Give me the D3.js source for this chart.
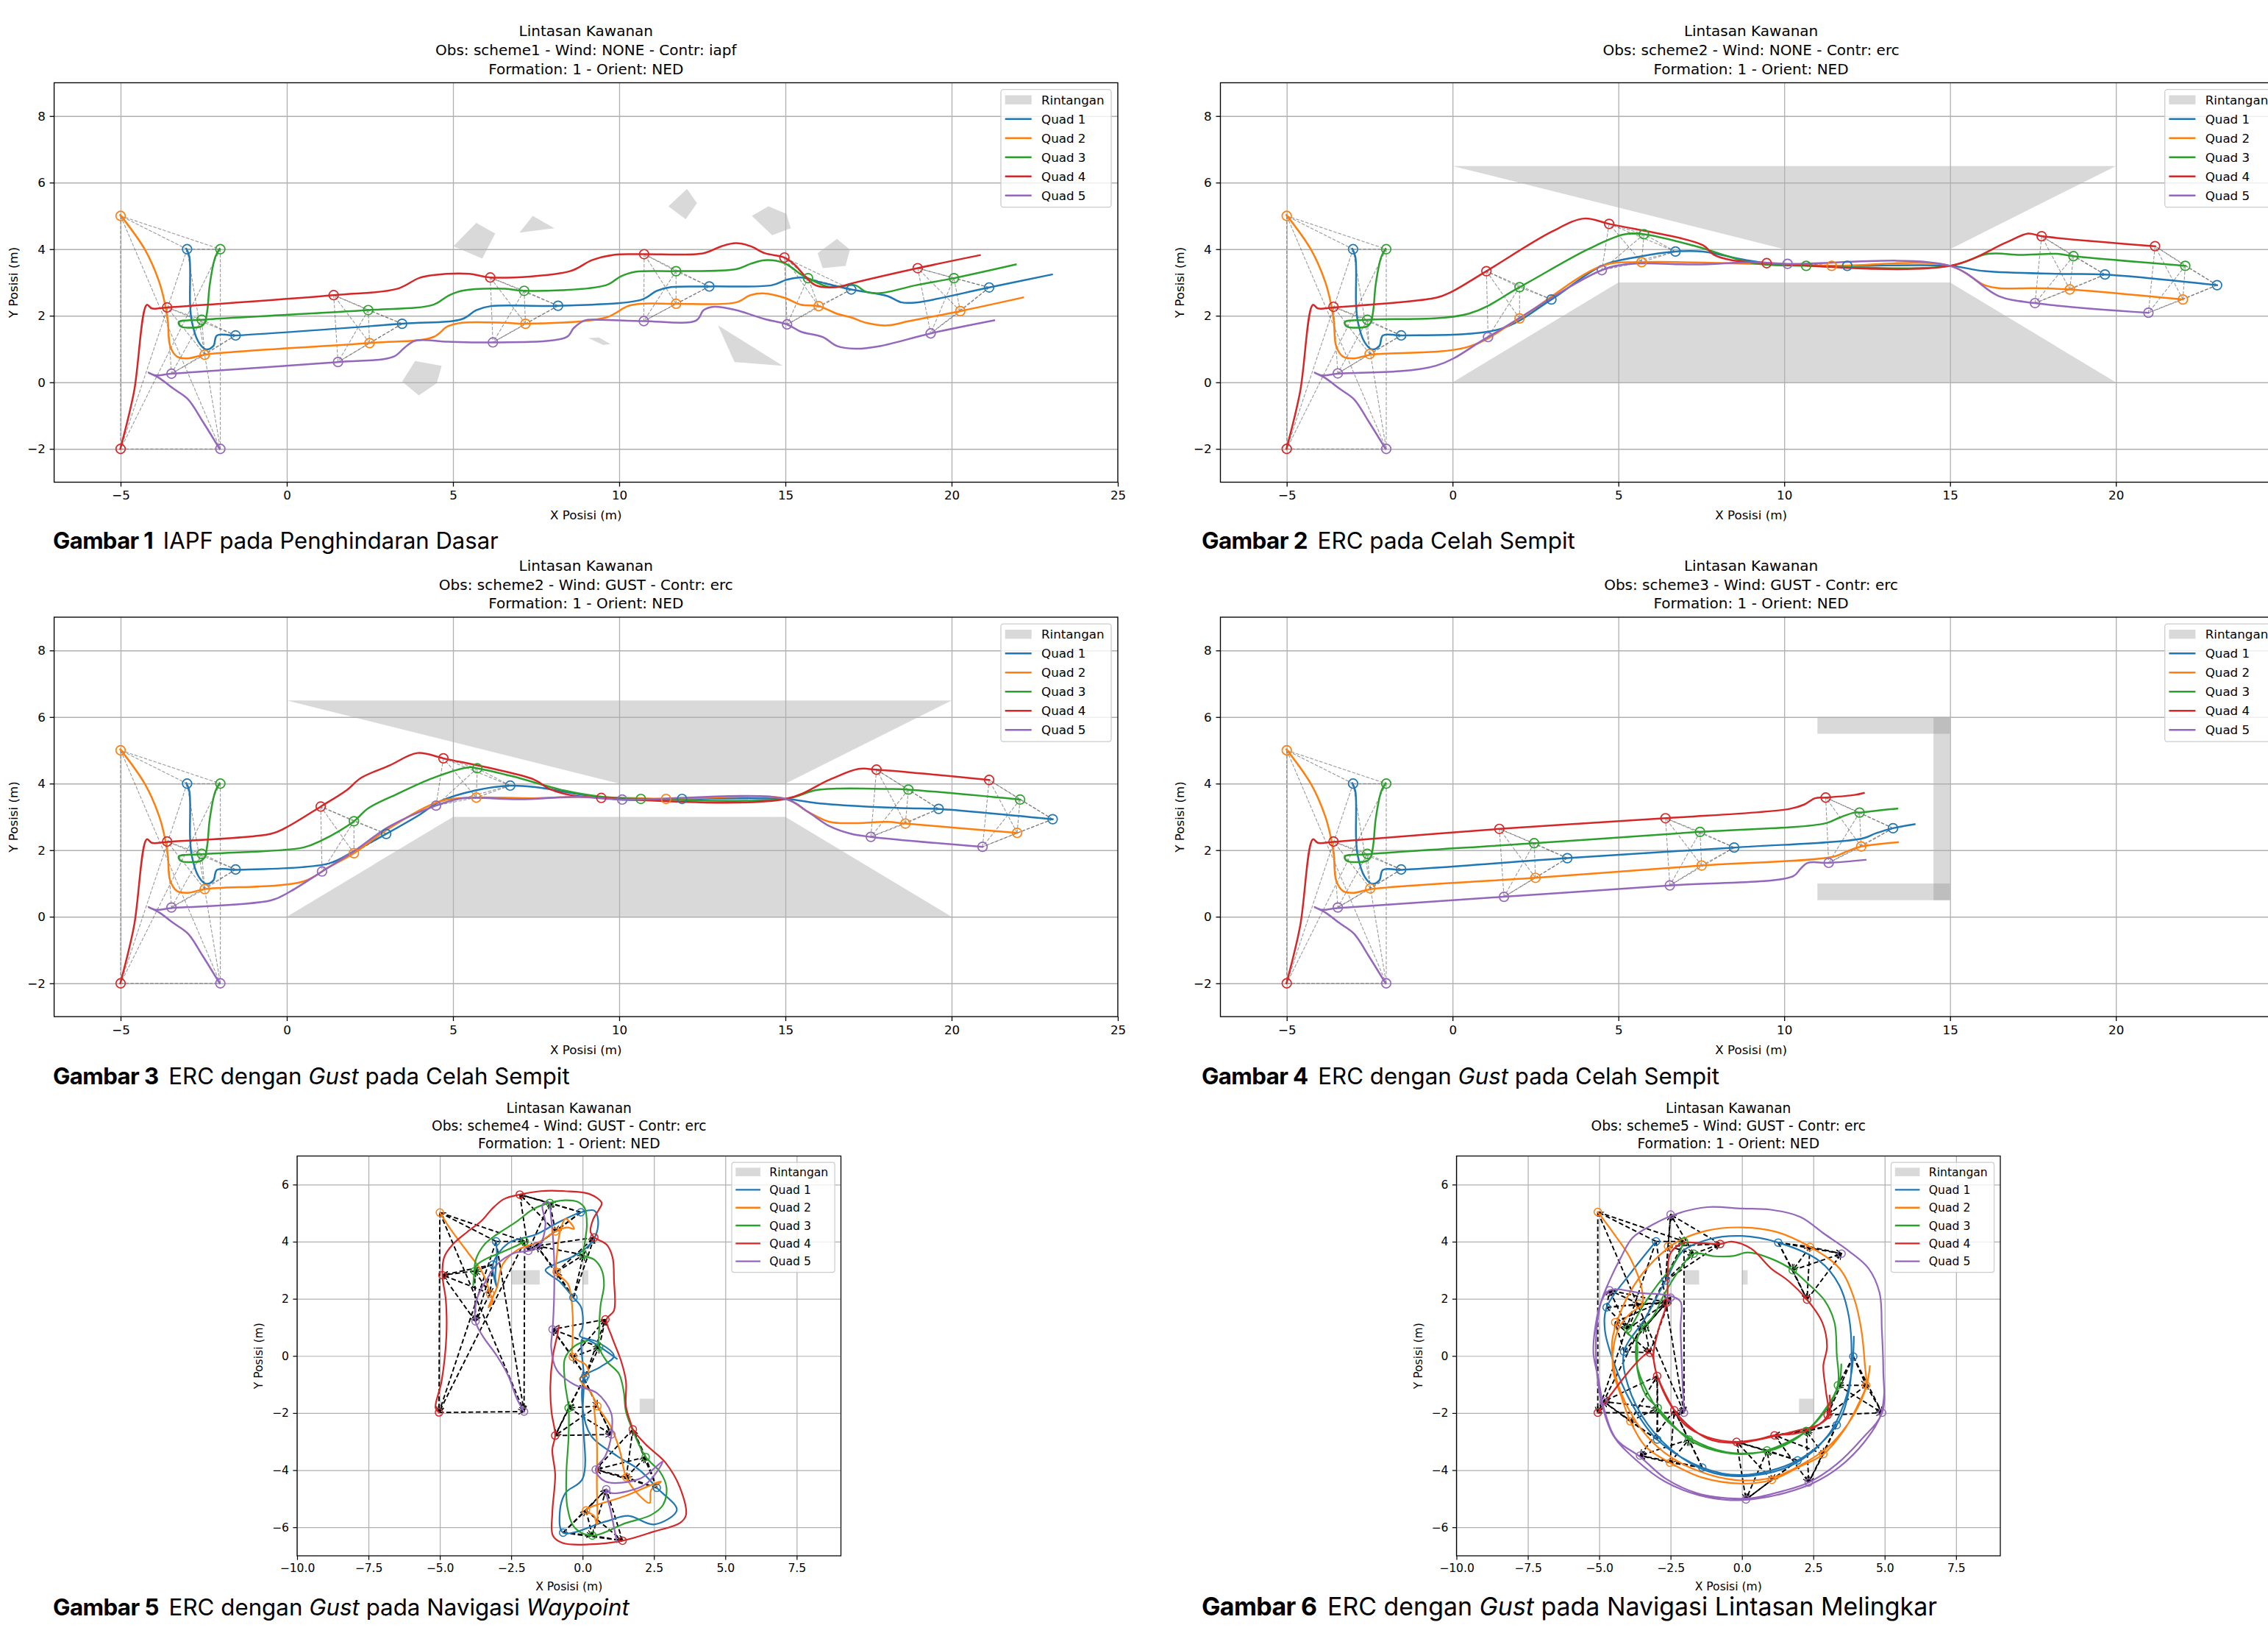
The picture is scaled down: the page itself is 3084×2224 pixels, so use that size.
<!DOCTYPE html>
<html><head><meta charset="utf-8">
<script src="https://cdn.jsdelivr.net/npm/d3@7"></script>
<style>body{margin:0;background:#fff}svg{display:block}</style>
</head><body>
<svg id="fig" width="3084" height="2224"></svg>
<script>
// ---------------- DATA ----------------
const quadNames = ["Quad 1","Quad 2","Quad 3","Quad 4","Quad 5"];
const quadColors = ["#1f77b4","#ff7f0e","#2ca02c","#d62728","#9467bd"];
const obstacleLabel = "Rintangan";

const xTicksWide = [-5,0,5,10,15,20,25];
const yTicksWide = [-2,0,2,4,6,8];
const xTicksSq = [-10,-7.5,-5,-2.5,0,2.5,5,7.5];
const yTicksSq = [-6,-4,-2,0,2,4,6];

const titles = [
 ["Lintasan Kawanan","Obs: scheme1 - Wind: NONE - Contr: iapf","Formation: 1 - Orient: NED"],
 ["Lintasan Kawanan","Obs: scheme2 - Wind: NONE - Contr: erc","Formation: 1 - Orient: NED"],
 ["Lintasan Kawanan","Obs: scheme2 - Wind: GUST - Contr: erc","Formation: 1 - Orient: NED"],
 ["Lintasan Kawanan","Obs: scheme3 - Wind: GUST - Contr: erc","Formation: 1 - Orient: NED"],
 ["Lintasan Kawanan","Obs: scheme4 - Wind: GUST - Contr: erc","Formation: 1 - Orient: NED"],
 ["Lintasan Kawanan","Obs: scheme5 - Wind: GUST - Contr: erc","Formation: 1 - Orient: NED"]
];
const captions = [
 [["Gambar 1","b"],[" IAPF pada Penghindaran Dasar",""]],
 [["Gambar 2","b"],[" ERC pada Celah Sempit",""]],
 [["Gambar 3","b"],[" ERC dengan ",""],["Gust","i"],[" pada Celah Sempit",""]],
 [["Gambar 4","b"],[" ERC dengan ",""],["Gust","i"],[" pada Celah Sempit",""]],
 [["Gambar 5","b"],[" ERC dengan ",""],["Gust","i"],[" pada Navigasi ",""],["Waypoint","i"]],
 [["Gambar 6","b"],[" ERC dengan ",""],["Gust","i"],[" pada Navigasi Lintasan Melingkar",""]]
];

// obstacles
const obs_p1 = [
 [[5.01,4.09],[5.7,4.79],[6.27,4.47],[5.88,3.72]],
 [[7.0,4.5],[7.4,5.0],[8.05,4.63]],
 [[11.48,5.29],[12.04,5.81],[12.34,5.38],[12.0,4.9]],
 [[13.99,5.0],[14.49,5.29],[15.03,5.06],[15.16,4.63],[14.6,4.42]],
 [[15.97,3.88],[16.55,4.31],[16.94,3.99],[16.81,3.5],[16.12,3.43]],
 [[9.07,1.33],[9.39,1.35],[9.74,1.15],[9.52,1.12]],
 [[12.97,1.71],[13.47,0.61],[14.92,0.5]],
 [[3.86,0.64],[4.66,0.5],[4.51,-0.03],[3.97,-0.39],[3.47,0.02]]
];
const obs_gap = [
 [[0,6.5],[20,6.5],[15,4],[10,4]],
 [[0,0],[5,3],[15,3],[20,0]]
];
const obs_p4 = [
 [[11,5.5],[15,5.5],[15,6],[11,6]],
 [[11,0.5],[15,0.5],[15,1],[11,1]],
 [[14.5,0.5],[15,0.5],[15,6],[14.5,6]]
];
const obs_p5 = [
 [[-2.5,2.5],[-1.5,2.5],[-1.5,3],[-2.5,3]],
 [[0,2.5],[0.2,2.5],[0.2,3],[0,3]],
 [[2,-2],[2.5,-2],[2.5,-1.5],[2,-1.5]]
];
const obs_p6 = [
 [[-2,2.5],[-1.5,2.5],[-1.5,3],[-2,3]],
 [[0,2.5],[0.2,2.5],[0.2,3],[0,3]],
 [[2,-2],[2.5,-2],[2.5,-1.5],[2,-1.5]]
];

// common take-off segments (panels 1-4)
const start_q1 = [[-3.02,4.01],[-2.93,3.77],[-2.91,2.38],[-2.86,1.84],[-2.65,1.2],[-2.43,0.99],[-2.21,1.09],[-2.1,1.41],[-1.54,1.41]];
const start_q2 = [[-5.01,5.03],[-4.27,3.99],[-3.84,3.02],[-3.67,2.38],[-3.58,1.84],[-3.51,1.09],[-3.3,0.77],[-2.97,0.72],[-2.47,0.83]];
const start_q3 = [[-2.02,4.01],[-2.15,3.77],[-2.32,2.92],[-2.39,2.17],[-2.47,1.79],[-2.58,1.68],[-3.19,1.68],[-3.25,1.81],[-2.56,1.88]];
const start_q4 = [[-5.01,-2.0],[-4.6,-0.3],[-4.21,2.33],[-4.06,2.22],[-3.6,2.25]];
const start_q5 = [[-2.02,-2.0],[-2.54,-1.16],[-2.97,-0.51],[-3.41,-0.19],[-3.84,0.13],[-4.16,0.29],[-3.95,0.21],[-3.47,0.26]];

// panel 1
const p1_q1 = start_q1.concat([[3.47,1.76],[5.27,1.9],[5.7,2.17],[6.14,2.29],[8.16,2.3],[10.69,2.49],[11.13,2.75],[11.56,2.86],[12.71,2.88],[14.6,2.92],[15.03,3.08],[15.47,3.15],[16.0,3.02],[16.98,2.79],[18.07,2.59],[18.5,2.4],[18.94,2.4],[21.13,2.85],[23.02,3.24]]);
const p1_q2 = start_q2.concat([[2.49,1.18],[4.4,1.36],[4.84,1.68],[5.27,1.79],[6.57,1.79],[7.18,1.76],[9.61,1.95],[10.26,2.29],[10.69,2.36],[11.71,2.36],[13.51,2.4],[13.95,2.62],[14.38,2.67],[14.97,2.54],[15.47,2.33],[16.0,2.29],[16.55,2.06],[16.98,1.95],[17.42,1.79],[18.07,1.71],[18.72,1.84],[20.26,2.14],[22.15,2.55]]);
const p1_q3 = start_q3.concat([[2.45,2.17],[4.4,2.33],[4.84,2.59],[5.27,2.75],[6.57,2.81],[7.14,2.75],[9.61,2.92],[10.04,3.18],[10.48,3.32],[11.71,3.34],[13.51,3.4],[13.95,3.56],[14.38,3.67],[14.97,3.58],[15.47,3.24],[15.68,3.13],[16.33,2.86],[17.09,2.92],[17.42,2.72],[17.85,2.68],[18.94,2.92],[20.07,3.13],[21.93,3.54]]);
const p1_q4 = start_q4.concat([[1.41,2.62],[3.32,2.81],[3.97,3.13],[4.4,3.22],[5.49,3.26],[6.12,3.15],[8.52,3.34],[9.18,3.67],[9.83,3.83],[10.69,3.85],[12.54,3.88],[13.08,4.09],[13.51,4.18],[13.95,4.09],[14.38,3.88],[14.97,3.75],[15.25,3.56],[15.9,2.92],[16.55,2.86],[16.98,2.97],[18.98,3.43],[20.85,3.82]]);
const p1_q5 = start_q5.concat([[1.54,0.61],[3.21,0.77],[3.54,1.04],[3.86,1.25],[4.84,1.22],[6.2,1.2],[8.42,1.36],[8.63,1.63],[8.96,1.86],[9.39,1.88],[10.74,1.84],[12.32,1.86],[12.54,2.17],[12.86,2.27],[13.51,2.17],[14.38,1.9],[15.05,1.74],[15.47,1.52],[16.12,1.36],[16.55,1.09],[17.09,1.01],[17.85,1.09],[19.37,1.47],[21.28,1.86]]);
const p1_snaps = [
 [[-3,4],[-5,5],[-2,4],[-5,-2],[-2,-2]],
 [[-1.54,1.41],[-2.47,0.83],[-2.56,1.88],[-3.6,2.25],[-3.47,0.26]],
 [[3.47,1.76],[2.49,1.18],[2.45,2.17],[1.41,2.62],[1.54,0.61]],
 [[8.16,2.3],[7.18,1.76],[7.14,2.75],[6.12,3.15],[6.2,1.2]],
 [[12.71,2.88],[11.71,2.36],[11.71,3.34],[10.75,3.85],[10.74,1.84]],
 [[16.98,2.79],[16.0,2.29],[15.68,3.13],[14.97,3.75],[15.05,1.74]],
 [[21.13,2.85],[20.26,2.14],[20.07,3.13],[18.98,3.43],[19.37,1.47]]
];

// panel 2
const p2_q1 = start_q1.concat([[1.46,1.61],[2.98,2.49],[4.5,3.5],[5.59,3.77],[6.72,3.93],[7.55,3.93],[8.86,3.67],[9.95,3.54],[11.9,3.5],[15,3.5],[16.04,3.34],[18.22,3.26],[19.67,3.24],[23.05,2.92]]);
const p2_q2 = start_q2.concat([[0.48,1.07],[2.02,1.92],[4.5,3.5],[5.7,3.61],[8.2,3.58],[9.5,3.55],[11.43,3.5],[15,3.5],[16.04,2.92],[16.47,2.83],[17.56,2.83],[18.61,2.79],[22.02,2.49]]);
const p2_q3 = start_q3.concat([[0.48,2.06],[2.02,2.86],[4.07,3.99],[5.16,4.44],[5.77,4.45],[7.33,4.09],[9.08,3.58],[10.66,3.5],[15,3.5],[16.15,3.86],[17.13,3.83],[18.22,3.86],[18.72,3.79],[22.09,3.5]]);
const p2_q4 = start_q4.concat([[-0.5,2.54],[-0.07,2.7],[1.02,3.34],[2.98,4.52],[3.96,4.92],[4.72,4.76],[7.55,4.12],[7.88,3.83],[8.42,3.67],[9.47,3.58],[15,3.5],[16.69,4.2],[17.35,4.47],[17.76,4.39],[21.18,4.09]]);
const p2_q5 = start_q5.concat([[-0.5,0.5],[1.07,1.36],[4.5,3.37],[5.38,3.56],[7.33,3.54],[9.08,3.61],[10.1,3.56],[15,3.5],[16.47,2.59],[17.56,2.38],[20.98,2.09]]);
const p2_snaps = [
 [[-3,4],[-5,5],[-2,4],[-5,-2],[-2,-2]],
 [[-1.55,1.41],[-2.5,0.85],[-2.57,1.88],[-3.59,2.27],[-3.46,0.27]],
 [[2.98,2.49],[2.02,1.92],[2.02,2.86],[1.02,3.34],[1.07,1.36]],
 [[6.72,3.93],[5.7,3.61],[5.77,4.45],[4.72,4.76],[4.5,3.37]],
 [[11.9,3.5],[11.43,3.5],[10.66,3.5],[9.47,3.58],[10.1,3.56]],
 [[19.67,3.24],[18.61,2.79],[18.72,3.79],[17.76,4.39],[17.56,2.38]],
 [[23.05,2.92],[22.02,2.49],[22.09,3.5],[21.18,4.09],[20.98,2.09]]
];

// panel 3
const p3_q1 = start_q1.concat([[1.26,1.6],[2.02,1.97],[2.99,2.49],[3.97,3.05],[4.62,3.47],[5.7,3.8],[6.72,3.94],[7.44,3.9],[8.74,3.69],[10.04,3.52],[11.89,3.54],[15,3.54],[15.9,3.42],[17.42,3.31],[18.72,3.26],[19.61,3.24],[23.04,2.93]]);
const p3_q2 = start_q2.concat([[0.5,1.06],[1.26,1.49],[2.02,1.91],[3.1,2.67],[4.62,3.47],[5.7,3.58],[7.44,3.56],[8.74,3.6],[11.41,3.54],[15,3.54],[15.68,3.15],[16.33,2.85],[16.98,2.81],[18.07,2.85],[18.61,2.8],[21.97,2.52]]);
const p3_q3 = start_q3.concat([[0.5,2.08],[1.04,2.29],[2.02,2.87],[2.45,3.26],[3.32,3.69],[4.4,4.17],[5.49,4.49],[5.73,4.46],[6.79,4.22],[8.31,3.8],[9.5,3.6],[10.65,3.54],[15,3.54],[15.9,3.8],[16.55,3.85],[18.07,3.84],[18.7,3.82],[22.06,3.52]]);
const p3_q4 = start_q4.concat([[-0.48,2.49],[-0.04,2.67],[1.02,3.31],[1.8,3.8],[2.23,4.17],[3.1,4.55],[3.93,4.92],[4.71,4.76],[7.44,4.12],[7.88,3.85],[8.52,3.66],[9.46,3.57],[15,3.54],[16.33,4.12],[17.2,4.44],[17.74,4.42],[21.13,4.11]]);
const p3_q5 = start_q5.concat([[-0.48,0.49],[0.07,0.74],[1.06,1.36],[2.02,1.97],[3.1,2.72],[4.49,3.34],[5.27,3.56],[7.0,3.53],[8.74,3.6],[10.09,3.52],[15,3.54],[15.68,3.15],[16.33,2.72],[16.98,2.49],[17.57,2.4],[20.93,2.1]]);
const p3_snaps = [
 [[-3,4],[-5,5],[-2,4],[-5,-2],[-2,-2]],
 [[-1.54,1.42],[-2.47,0.83],[-2.56,1.89],[-3.6,2.26],[-3.47,0.28]],
 [[2.99,2.49],[2.02,1.91],[2.02,2.87],[1.02,3.31],[1.06,1.36]],
 [[6.72,3.94],[5.7,3.58],[5.73,4.46],[4.71,4.76],[4.49,3.34]],
 [[11.89,3.54],[11.41,3.54],[10.65,3.54],[9.46,3.57],[10.09,3.52]],
 [[19.61,3.24],[18.61,2.8],[18.7,3.82],[17.74,4.42],[17.57,2.4]],
 [[23.04,2.93],[21.97,2.52],[22.06,3.52],[21.13,4.11],[20.93,2.1]]
];

// panel 4
const p4_q1 = start_q1.concat([[3.46,1.76],[8.49,2.08],[12.34,2.35],[12.77,2.51],[13.28,2.66],[13.93,2.78]]);
const p4_q2 = start_q2.concat([[2.5,1.17],[7.51,1.54],[11.47,1.8],[11.9,1.97],[12.32,2.11],[13.43,2.24]]);
const p4_q3 = start_q3.concat([[2.46,2.21],[7.46,2.55],[11.25,2.81],[11.69,2.99],[12.12,3.13],[12.27,3.13],[12.99,3.21],[13.41,3.25]]);
const p4_q4 = start_q4.concat([[1.41,2.64],[6.42,2.96],[10.16,3.24],[10.6,3.37],[10.93,3.56],[11.25,3.58],[12.12,3.66],[12.4,3.72]]);
const p4_q5 = start_q5.concat([[1.55,0.6],[6.55,0.94],[10.27,1.22],[10.49,1.44],[10.71,1.62],[11.34,1.62],[12.45,1.71]]);
const p4_snaps = [
 [[-3,4],[-5,5],[-2,4],[-5,-2],[-2,-2]],
 [[-1.55,1.42],[-2.48,0.85],[-2.57,1.89],[-3.59,2.26],[-3.46,0.28]],
 [[3.46,1.76],[2.5,1.17],[2.46,2.21],[1.41,2.64],[1.55,0.6]],
 [[8.49,2.08],[7.51,1.54],[7.46,2.55],[6.42,2.96],[6.55,0.94]],
 [[13.28,2.66],[12.32,2.11],[12.27,3.13],[11.25,3.58],[11.34,1.62]]
];

// panel 5 (waypoints)
const p5_q1 = [[-3.03,4.01],[-3.0,3.5],[-3.06,2.75],[-3.0,2.4],[-3.14,3.2],[-2.6,3.95],[-1.64,4.25],[-0.9,4.65],[-0.06,5.03],[0.41,5.09],[0.54,4.78],[0.45,4.2],[0.15,3.8],[-0.4,3.45],[-1.0,3.2],[-1.3,3.0],[-0.8,2.6],[-0.32,2.04],[-0.05,1.7],[0.0,1.0],[-0.1,0.7],[0.5,0.5],[1.1,0.0],[0.6,-0.4],[0.1,-0.7],[0.0,-1.8],[0.3,-2.8],[1.2,-3.5],[2.0,-4.0],[2.6,-4.62],[3.3,-5.4],[2.5,-5.9],[1.6,-5.6],[0.8,-5.8],[-0.68,-6.19],[-0.8,-5.5],[-0.6,-4.8],[0.0,-4.3],[0.0,-2.0],[0.05,-0.8],[0.0,0.6],[0.3,0.5],[1.2,-0.1]];
const p5_q2 = [[-5,5.02],[-4.6,4.4],[-4.0,3.6],[-3.5,2.9],[-3.24,2.18],[-3.15,1.9],[-3.3,1.7],[-3.0,2.4],[-2.8,3.2],[-2.3,3.7],[-1.5,4.0],[-0.95,4.36],[-0.55,4.5],[-0.3,4.45],[-0.6,4.8],[-0.8,4.3],[-0.9,3.5],[-0.91,2.94],[-0.5,2.5],[-0.35,1.5],[-0.35,0.5],[-0.34,-0.04],[0.1,-0.3],[0.2,-0.6],[-0.1,-0.8],[0.3,-1.3],[0.52,-1.76],[1.0,-2.5],[1.3,-3.3],[1.53,-4.25],[2.0,-4.9],[2.35,-5.15],[2.4,-4.7],[2.75,-4.4],[1.5,-4.9],[0.12,-5.41],[0.4,-5.6],[0.5,-5.9],[0.5,-4.5],[0.5,-3.0],[0.4,-1.8]];
const p5_q3 = [[-2.03,4.01],[-2.33,3.85],[-2.93,3.59],[-3.36,3.41],[-3.7,3.19],[-3.78,2.97],[-3.83,2.48],[-3.8,2.8],[-3.74,3.37],[-3.44,3.9],[-3.01,4.25],[-2.33,4.69],[-1.73,5.14],[-1.15,5.36],[-0.62,5.45],[-0.19,5.4],[0.07,5.18],[0.15,4.61],[0.07,3.9],[0.03,3.54],[0.41,3.37],[0.67,3.01],[0.75,2.48],[0.63,1.77],[0.58,0.89],[0.58,0.31],[0.84,-0.18],[1.27,-0.62],[1.44,-1.24],[1.52,-1.95],[1.78,-2.66],[2.21,-3.54],[2.72,-4.07],[2.94,-4.61],[2.81,-5.23],[2.38,-5.58],[1.52,-5.85],[0.34,-6.29],[-0.27,-6.02],[-0.53,-5.31],[-0.57,-4.16],[-0.49,-2.83],[-0.49,-1.82],[-0.62,-0.89],[-0.62,-0.09],[-0.27,0.35],[0.15,0.53]];
const p5_q4 = [[-5.03,-1.98],[-5.15,-1.82],[-4.94,-0.89],[-4.77,0.71],[-4.79,1.95],[-4.91,2.83],[-4.85,3.45],[-4.55,3.9],[-4.04,4.34],[-3.53,4.74],[-3.18,5.14],[-2.76,5.49],[-2.2,5.65],[-1.47,5.77],[-0.62,5.77],[0.24,5.67],[0.67,5.36],[0.58,5.14],[0.37,4.78],[0.28,4.34],[0.41,4.15],[0.84,3.9],[1.05,3.45],[1.1,2.66],[1.1,1.59],[0.84,1.28],[1.01,0.71],[1.35,-0.18],[1.52,-0.89],[1.52,-1.77],[1.7,-2.39],[1.76,-2.57],[2.21,-3.1],[2.89,-3.72],[3.41,-4.61],[3.62,-5.58],[3.41,-5.85],[2.47,-6.16],[1.4,-6.47],[0.24,-6.6],[-0.7,-6.55],[-1.04,-6.29],[-1.06,-5.49],[-0.96,-4.16],[-1.06,-3.28],[-0.96,-2.79],[-1.09,-1.95],[-1.13,-1.06],[-1.04,0],[-0.87,0.8],[-0.83,1.06]];
const p5_q5 = [[-2.05,-1.95],[-2.3,-1.5],[-2.6,-0.7],[-3.0,0.0],[-3.5,0.7],[-3.75,1.21],[-3.7,2.0],[-3.4,2.6],[-3.0,3.2],[-2.4,3.6],[-1.9,3.68],[-1.5,3.9],[-1.3,4.6],[-1.4,5.3],[-1.2,5.4],[-1.1,4.8],[-1.0,3.5],[-1.0,2.0],[-1.05,0.93],[-1.1,0.3],[-0.9,-0.5],[-0.3,-1.0],[0.5,-1.3],[1.0,-2.0],[1.01,-2.75],[0.8,-3.5],[0.46,-3.98],[0.8,-4.4],[2.0,-4.3],[2.8,-3.7],[2.2,-4.5],[1.0,-4.8],[0.83,-4.67],[1.0,-5.5],[1.2,-6.5]];
const p5_snaps = [
 [[-3.03,4.01],[-5,5.02],[-2.03,4.01],[-5.03,-1.98],[-2.05,-1.95]],
 [[-3.14,3.2],[-3.24,2.18],[-3.78,2.97],[-4.91,2.83],[-3.75,1.21]],
 [[-0.06,5.03],[-0.95,4.36],[-1.15,5.36],[-2.2,5.65],[-1.9,3.68]],
 [[-0.32,2.04],[-0.91,2.94],[0.03,3.54],[0.41,4.15],[-1.6,3.85]],
 [[0.1,-0.7],[-0.34,-0.04],[0.58,0.31],[0.8,1.28],[-1.05,0.93]],
 [[0.05,-0.8],[0.52,-1.76],[-0.49,-1.82],[-0.96,-2.79],[1.01,-2.75]],
 [[2.6,-4.62],[1.53,-4.25],[2.21,-3.54],[1.76,-2.57],[0.46,-3.98]],
 [[-0.68,-6.19],[0.12,-5.41],[0.34,-6.29],[1.4,-6.47],[0.83,-4.67]]
];

// panel 6 (circle)
const p6_q1 = [[-3.01,4.01],[-3.9,2.9],[-4.74,1.7],[-4.8,0.9],[-4.5,-0.2],[-3.9,-1.6],[-2.97,-2.93],[-1.39,-3.91],[0,-4.17],[1.95,-3.66],[3.32,-2.42],[3.75,-1.22],[3.84,-0.02],[3.75,1.35],[3.41,2.47],[2.72,3.32],[1.27,3.97],[0,4.2],[-1.13,4.09],[-2.07,3.67],[-2.67,2.64],[-3.4,1.3],[-4.13,0.15],[-4.0,-1.0],[-3.3,-2.4],[-2.2,-3.5],[-1.0,-4.1],[0.3,-4.2],[1.8,-3.8],[3.0,-2.8],[3.6,-1.6],[3.85,-0.5],[3.92,0.67]];
const p6_q2 = [[-5.05,5.04],[-4.5,4.3],[-3.9,3.4],[-3.5,2.3],[-3.5,1.8],[-3.9,1.5],[-4.3,1.0],[-4.5,0.3],[-4.51,-0.53],[-4.21,-1.47],[-3.91,-2.29],[-3.36,-3.19],[-2.52,-3.74],[-1.39,-4.26],[0,-4.47],[1.05,-4.34],[2.04,-3.87],[2.85,-3.44],[3.58,-2.59],[4.1,-1.64],[4.35,-1.03],[4.31,-0.36],[4.18,0.92],[3.92,2.04],[3.41,3.07],[2.38,3.82],[1.18,4.35],[0,4.5],[-1.22,4.39],[-2.24,4.01],[-3.1,3.32],[-3.78,2.47],[-4.26,1.52],[-4.55,0.5],[-4.45,-0.6],[-4.1,-1.6],[-3.5,-2.6],[-2.7,-3.4],[-1.6,-4.0],[-0.2,-4.35],[1.1,-4.25],[2.1,-3.8],[3.0,-3.2],[3.7,-2.4],[4.2,-1.5],[4.4,-0.9],[4.48,-0.36]];
const p6_q3 = [[-2.03,4.01],[-2.4,3.2],[-2.95,2.5],[-3.5,1.7],[-3.9,1.0],[-4.05,0.85],[-3.7,0.5],[-3.66,-0.5],[-3.36,-1.39],[-2.95,-1.82],[-2.41,-2.42],[-1.86,-2.93],[-0.96,-3.31],[0,-3.44],[0.88,-3.31],[2.25,-2.63],[2.89,-1.9],[3.36,-1.03],[3.32,0.07],[3.24,1.18],[2.89,1.95],[2.29,2.55],[1.78,3.0],[1.01,3.41],[0.2,3.62],[-0.3,3.5],[-0.96,3.49],[-1.69,3.58],[-2.2,3.0],[-2.7,2.2],[-3.1,1.4],[-3.6,0.8],[-3.7,-0.2],[-3.3,-1.3],[-2.6,-2.3],[-1.5,-3.05],[-0.3,-3.4],[1.2,-3.25],[2.3,-2.6],[3.0,-1.8],[3.4,-1.0],[3.48,-0.3]];
const p6_q4 = [[-5.05,-1.99],[-3.23,0.11],[-2.97,-0.7],[-2.37,-1.9],[-1.99,-2.42],[-1.22,-2.84],[-0.19,-3.01],[0.5,-2.93],[1.14,-2.78],[1.87,-2.72],[2.55,-2.5],[3.0,-2.07],[2.94,-1.22],[2.85,-0.36],[2.98,0.33],[2.81,1.18],[2.28,1.97],[1.61,2.64],[1.01,3.07],[0.33,3.75],[-0.36,4.0],[-0.76,3.92],[-1.4,3.95],[-2.07,3.95],[-2.5,3.6],[-2.6,3.0],[-2.63,1.87],[-2.9,1.0],[-3.1,0.0],[-2.9,-0.9],[-2.3,-2.0],[-1.2,-2.9],[-0.19,-3.05],[1.1,-2.82],[2.0,-2.6],[2.7,-2.4],[3.05,-2.1],[3.07,-1.39]];
const p6_q5 = [[-2.03,-1.99],[-2.1,-0.5],[-2.15,1.0],[-2.15,1.9],[-2.5,2.1],[-3.5,2.2],[-4.64,2.3],[-4.94,1.87],[-5.15,0.92],[-5.2,0.07],[-5.03,-0.79],[-4.82,-1.9],[-4.39,-2.93],[-3.57,-3.53],[-2.67,-4.3],[-1.56,-4.81],[-0.53,-4.98],[0.33,-4.98],[1.44,-4.73],[2.34,-4.43],[3.32,-3.79],[4.18,-2.93],[4.91,-1.99],[4.95,-0.5],[4.9,0.92],[4.82,2.21],[4.43,3.07],[3.75,3.67],[2.89,4.27],[2.04,4.87],[1.01,5.12],[0,5.16],[-1.22,5.21],[-2.24,4.99],[-3.1,4.61],[-3.83,4.14],[-4.26,3.41],[-4.6,2.72],[-4.94,1.87],[-5.1,0.8],[-5.1,-0.3],[-4.95,-1.5],[-4.5,-2.8],[-3.7,-3.65],[-2.7,-4.4],[-1.5,-4.88],[-0.4,-5.05],[0.5,-5.0],[1.5,-4.8],[2.5,-4.45],[3.4,-3.9],[4.3,-3.0],[4.85,-2.1],[4.99,-1.22]];
const p6_snaps = [
 [[-3.01,4.01],[-5.05,5.04],[-2.03,4.01],[-5.05,-1.99],[-2.03,-1.99]],
 [[-4.74,1.7],[-3.61,1.82],[-4.0,0.95],[-2.63,1.87],[-4.64,2.3]],
 [[-4.13,0.15],[-4.44,1.18],[-3.4,1.0],[-3.23,0.11],[-2.5,2.04]],
 [[-2.67,2.64],[-2.59,3.84],[-1.69,3.58],[-0.76,3.92],[-2.5,4.95]],
 [[1.27,3.97],[2.38,3.82],[1.78,3.0],[2.28,1.97],[3.49,3.58]],
 [[3.9,-0.02],[4.35,-1.03],[3.36,-1.03],[3.0,-2.07],[4.91,-1.99]],
 [[3.32,-2.42],[2.85,-3.44],[2.25,-2.63],[1.14,-2.78],[2.34,-4.43]],
 [[1.95,-3.66],[1.05,-4.34],[0.88,-3.31],[-0.19,-3.01],[0.14,-5.03]],
 [[-1.39,-3.91],[-2.52,-3.74],[-1.86,-2.93],[-2.37,-1.9],[-3.57,-3.49]],
 [[-2.97,-2.93],[-3.91,-2.29],[-2.95,-1.82],[-2.97,-0.7],[-4.85,-1.6]]
];

// ---------------- LAYOUT ----------------
const panels = [
 {left:73.6, right:1520, top:112.5, bottom:655.5, xd:[-7,25], yd:[-3,9], xt:xTicksWide, yt:yTicksWide, fmt:d3.format("d"), s:1,
  obs:obs_p1, paths:[p1_q1,p1_q2,p1_q3,p1_q4,p1_q5], snaps:p1_snaps, arrows:false, capX:72, capY:746, capW:600},
 {left:1659.5, right:3102.7, top:112.5, bottom:655.5, xd:[-7,25], yd:[-3,9], xt:xTicksWide, yt:yTicksWide, fmt:d3.format("d"), s:1,
  obs:obs_gap, paths:[p2_q1,p2_q2,p2_q3,p2_q4,p2_q5], snaps:p2_snaps, arrows:false, capX:1634, capY:746, capW:502},
 {left:73.6, right:1520, top:839, bottom:1382, xd:[-7,25], yd:[-3,9], xt:xTicksWide, yt:yTicksWide, fmt:d3.format("d"), s:1,
  obs:obs_gap, paths:[p3_q1,p3_q2,p3_q3,p3_q4,p3_q5], snaps:p3_snaps, arrows:false, capX:72, capY:1474, capW:697},
 {left:1659.5, right:3102.7, top:839, bottom:1382, xd:[-7,25], yd:[-3,9], xt:xTicksWide, yt:yTicksWide, fmt:d3.format("d"), s:1,
  obs:obs_p4, paths:[p4_q1,p4_q2,p4_q3,p4_q4,p4_q5], snaps:p4_snaps, arrows:false, capX:1634, capY:1474, capW:698},
 {left:404, right:1143.5, top:1571.5, bottom:2115, xd:[-10,9.05], yd:[-7,7], xt:xTicksSq, yt:yTicksSq, fmt:d3.format(".1f"), yfmt:d3.format("d"), s:0.934,
  obs:obs_p5, paths:[p5_q1,p5_q2,p5_q3,p5_q4,p5_q5], snaps:p5_snaps, arrows:true, capX:72, capY:2196, capW:778},
 {left:1980.5, right:2720, top:1571.5, bottom:2115, xd:[-10,9.05], yd:[-7,7], xt:xTicksSq, yt:yTicksSq, fmt:d3.format(".1f"), yfmt:d3.format("d"), s:0.934,
  obs:obs_p6, paths:[p6_q1,p6_q2,p6_q3,p6_q4,p6_q5], snaps:p6_snaps, arrows:true, capX:1634, capY:2196, capW:994}
];

const svg = d3.select("#fig");
const FONT = "'DejaVu Sans', sans-serif";
const defs = svg.append("defs");
defs.append("marker").attr("id","arrowhead").attr("viewBox","0 0 10 10").attr("refX",9).attr("refY",5)
  .attr("markerWidth",9).attr("markerHeight",9).attr("markerUnits","userSpaceOnUse").attr("orient","auto")
  .append("path").attr("d","M0,1L9,5L0,9").attr("fill","none").attr("stroke","#000").attr("stroke-width",1.3);

panels.forEach((P, pi) => {
  const s = P.s, fs = 16.7*s;
  const x = d3.scaleLinear().domain(P.xd).range([P.left, P.right]);
  const y = d3.scaleLinear().domain(P.yd).range([P.bottom, P.top]);
  const g = svg.append("g");
  const cid = "clip"+pi;
  defs.append("clipPath").attr("id",cid).append("rect")
    .attr("x",P.left).attr("y",P.top).attr("width",P.right-P.left).attr("height",P.bottom-P.top);
  const plot = g.append("g").attr("clip-path",`url(#${cid})`);

  // obstacles
  plot.selectAll(".obs").data(P.obs).join("path")
    .attr("d", d => "M" + d.map(p => x(p[0])+","+y(p[1])).join("L") + "Z")
    .attr("fill","#808080").attr("fill-opacity",0.3);

  // grid
  const gx = plot.append("g").attr("transform",`translate(0,${P.bottom})`)
    .call(d3.axisBottom(x).tickValues(P.xt).tickSize(-(P.bottom-P.top)).tickFormat(""));
  const gy = plot.append("g").attr("transform",`translate(${P.left},0)`)
    .call(d3.axisLeft(y).tickValues(P.yt).tickSize(-(P.right-P.left)).tickFormat(""));
  [gx,gy].forEach(a => { a.select(".domain").remove(); a.selectAll("line").attr("stroke","#b0b0b0").attr("stroke-width",1.3*s); });

  // formation links
  const links = [];
  P.snaps.forEach(sn => { for (let i=0;i<5;i++) for (let j=i+1;j<5;j++) links.push([sn[i],sn[j]]); });
  const lk = plot.selectAll(".lk").data(links).join("line")
    .attr("x1",d=>x(d[0][0])).attr("y1",d=>y(d[0][1])).attr("x2",d=>x(d[1][0])).attr("y2",d=>y(d[1][1]));
  if (P.arrows) {
    lk.attr("stroke","#000").attr("stroke-width",1.9).attr("stroke-dasharray","6.5,3.5").attr("marker-end","url(#arrowhead)");
  } else {
    lk.attr("stroke","#555").attr("stroke-opacity",0.6).attr("stroke-width",1.1).attr("stroke-dasharray","4.5,2.2");
  }

  // trajectories
  const line = d3.line().x(d=>x(d[0])).y(d=>y(d[1])).curve(d3.curveCatmullRom.alpha(0.5));
  plot.selectAll(".traj").data(P.paths).join("path")
    .attr("d", line).attr("fill","none").attr("stroke",(d,i)=>quadColors[i])
    .attr("stroke-width", P.arrows ? 2.2 : 2.5).attr("stroke-linejoin","round").attr("stroke-linecap","square");

  // snapshot markers
  const marks = [];
  P.snaps.forEach(sn => sn.forEach((p,i) => marks.push([p,i])));
  plot.selectAll(".mk").data(marks).join("circle")
    .attr("cx",d=>x(d[0][0])).attr("cy",d=>y(d[0][1])).attr("r", P.arrows ? 5 : 6.3)
    .attr("fill","none").attr("stroke",d=>quadColors[d[1]]).attr("stroke-width", P.arrows ? 1.5 : 1.7);

  // spines
  g.append("rect").attr("x",P.left).attr("y",P.top).attr("width",P.right-P.left).attr("height",P.bottom-P.top)
    .attr("fill","none").attr("stroke","#000").attr("stroke-width",1.35*s);

  // axes
  const ax = g.append("g").attr("transform",`translate(0,${P.bottom})`)
    .call(d3.axisBottom(x).tickValues(P.xt).tickFormat(P.fmt).tickSize(6*s).tickPadding(5.8*s));
  const ay = g.append("g").attr("transform",`translate(${P.left},0)`)
    .call(d3.axisLeft(y).tickValues(P.yt).tickFormat(P.yfmt || P.fmt).tickSize(6*s).tickPadding(5.8*s));
  [ax,ay].forEach(a => {
    a.select(".domain").remove();
    a.selectAll("line").attr("stroke","#000").attr("stroke-width",1.3*s);
    a.selectAll("text").attr("font-family",FONT).attr("font-size",fs).attr("fill","#000");
  });
  ax.attr("font-size",null).attr("font-family",null);
  ay.attr("font-size",null).attr("font-family",null);

  // axis labels
  const cx = (P.left+P.right)/2;
  g.append("text").attr("x",cx).attr("y",P.bottom+50.5*s).attr("text-anchor","middle")
    .attr("font-family",FONT).attr("font-size",fs).text("X Posisi (m)");
  const ylx = P.left - 50*s, yly = (P.top+P.bottom)/2;
  g.append("text").attr("transform",`translate(${ylx},${yly}) rotate(-90)`).attr("text-anchor","middle")
    .attr("font-family",FONT).attr("font-size",fs).text("Y Posisi (m)");

  // title
  titles[pi].forEach((t,i) => {
    g.append("text").attr("x",cx).attr("y",P.top - 11.7*s - (2-i)*25.7*s).attr("text-anchor","middle")
      .attr("font-family",FONT).attr("font-size",20*s).text(t);
  });

  // legend
  const lw = 150*s, lh = 160*s;
  const lx = P.right - 9*s - lw, ly = P.top + 9.2*s;
  const lg = g.append("g");
  lg.append("rect").attr("x",lx).attr("y",ly).attr("width",lw).attr("height",lh).attr("rx",3.5*s)
    .attr("fill","#fff").attr("fill-opacity",0.8).attr("stroke","#cccccc").attr("stroke-width",1.3*s);
  const rowY = i => ly + 14*s + 26*s*i;
  lg.append("rect").attr("x",lx+5.7*s).attr("y",rowY(0)-6.2*s).attr("width",36*s).attr("height",12.4*s)
    .attr("fill","#808080").attr("fill-opacity",0.3);
  lg.append("text").attr("x",lx+55*s).attr("y",rowY(0)).attr("dy","0.36em").attr("font-family",FONT)
    .attr("font-size",fs).text(obstacleLabel);
  quadNames.forEach((nm,i) => {
    lg.append("line").attr("x1",lx+5.7*s).attr("x2",lx+41.7*s).attr("y1",rowY(i+1)).attr("y2",rowY(i+1))
      .attr("stroke",quadColors[i]).attr("stroke-width",2.5*s);
    lg.append("text").attr("x",lx+55*s).attr("y",rowY(i+1)).attr("dy","0.36em").attr("font-family",FONT)
      .attr("font-size",fs).text(nm);
  });

  // caption
  const cap = svg.append("text").attr("x",P.capX).attr("y",P.capY).attr("font-family","Inter, 'Open Sans', sans-serif")
    .attr("font-size",26).attr("fill","#000");
  captions[pi].forEach((part,k) => {
    const ts = cap.append("tspan").text(part[0]);
    if (part[1]==="b") ts.attr("font-weight",700).attr("letter-spacing",-0.6);
    if (part[1]==="i") ts.attr("font-style","italic");
    if (k===1) ts.attr("dx",5);
  });
  const w = cap.node().getComputedTextLength();
  if (w > 0) cap.attr("font-size", 26 * P.capW / w);
});
</script>
</body></html>
